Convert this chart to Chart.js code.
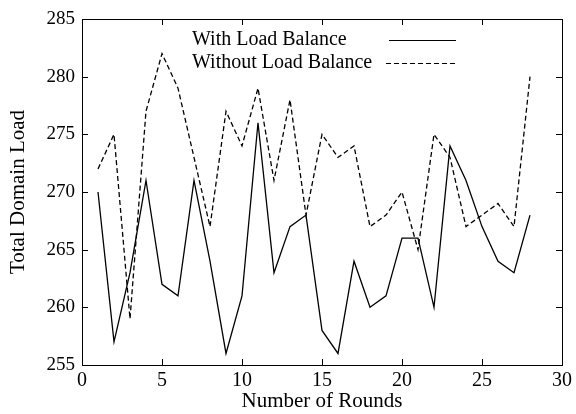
<!DOCTYPE html>
<html>
<head>
<meta charset="utf-8">
<script src="https://cdn.jsdelivr.net/npm/chart.js@4"></script>
<style>
  body { margin: 0; background: #fff; }
  canvas { display: block; }
</style>
</head>
<body>
<canvas id="chart" width="576" height="414"></canvas>
<script>
// rounds 1..28
const rounds = [1, 2, 3, 4, 5, 6, 7, 8, 9, 10, 11, 12, 13, 14, 15, 16, 17, 18, 19, 20, 21, 22, 23, 24, 25, 26, 27, 28];
const withLB = [270, 257, 263, 271, 262, 261, 271, 264, 256, 261, 276, 263, 267, 268, 258, 256, 264, 260, 261, 266, 266, 260, 274, 271, 267, 264, 263, 268];
const withoutLB = [272, 275, 259, 277, 282, 279, 273, 267, 277, 274, 279, 271, 278, 268, 275, 273, 274, 267, 268, 270, 265, 275, 273, 267, 268, 269, 267, 280];
const seriesNames = ['With Load Balance', 'Without Load Balance'];

const FONT = '"Liberation Serif", "DejaVu Serif", serif';

// inward ticks on all four sides + frame + legend in the top area
const framePlugin = {
    id: 'frame',
    afterDraw(chart) {
        const ctx = chart.ctx;
        const a = chart.chartArea;
        const xs = chart.scales.x, ys = chart.scales.y;
        ctx.save();
        ctx.strokeStyle = '#000';
        ctx.lineWidth = 1;
        ctx.strokeRect(a.left + 0.5, a.top + 0.5, a.right - a.left, a.bottom - a.top);
        const len = 6;
        ctx.beginPath();
        xs.ticks.forEach(t => {
            const px = Math.round(xs.getPixelForValue(t.value)) + 0.5;
            ctx.moveTo(px, a.bottom); ctx.lineTo(px, a.bottom - len);
            ctx.moveTo(px, a.top); ctx.lineTo(px, a.top + len);
        });
        ys.ticks.forEach(t => {
            const py = Math.round(ys.getPixelForValue(t.value)) + 0.5;
            ctx.moveTo(a.left, py); ctx.lineTo(a.left + len, py);
            ctx.moveTo(a.right, py); ctx.lineTo(a.right - len, py);
        });
        ctx.stroke();

        // legend
        ctx.font = '20px ' + FONT;
        ctx.fillStyle = '#000';
        ctx.textBaseline = 'middle';
        const rows = [40, 63];
        chart.data.datasets.forEach((ds, i) => {
            ctx.fillText(ds.label, 192, rows[i]);
            ctx.beginPath();
            ctx.setLineDash(ds.borderDash || []);
            ctx.moveTo(i ? 386 : 389, rows[i] + 0.5);
            ctx.lineTo(456, rows[i] + 0.5);
            ctx.stroke();
        });
        ctx.restore();
    }
};

new Chart(document.getElementById('chart'), {
    type: 'line',
    data: {
        labels: rounds,
        datasets: [
            {
                label: seriesNames[0],
                data: withLB,
                borderColor: '#000',
                borderWidth: 1.3,
                pointRadius: 0,
                tension: 0,
                fill: false,
            },
            {
                label: seriesNames[1],
                data: withoutLB,
                borderColor: '#000',
                borderWidth: 1.3,
                borderDash: [5, 3],
                pointRadius: 0,
                tension: 0,
                fill: false,
            },
        ],
    },
    options: {
        responsive: false,
        animation: false,
        layout: { padding: { top: 19, right: 9, left: 0, bottom: 0 } },
        plugins: { legend: { display: false }, tooltip: { enabled: false } },
        scales: {
            x: {
                type: 'linear',
                min: 0,
                max: 30,
                grid: { display: false, drawTicks: false },
                border: { display: false },
                ticks: { stepSize: 5, padding: 4, color: '#000', font: { family: FONT, size: 20 } },
                title: { display: true, text: 'Number of Rounds', color: '#000', padding: 0, font: { family: FONT, size: 21 } },
                afterFit: s => { s.height = 49; },
            },
            y: {
                min: 255,
                max: 285,
                grid: { display: false, drawTicks: false },
                border: { display: false },
                ticks: { stepSize: 5, padding: 7, color: '#000', font: { family: FONT, size: 19 } },
                title: { display: true, text: 'Total Domain Load', color: '#000', padding: { top: 6, bottom: 0 }, font: { family: FONT, size: 21 } },
                afterFit: s => { s.width = 82; },
            },
        },
    },
    plugins: [framePlugin],
});
</script>
</body>
</html>
